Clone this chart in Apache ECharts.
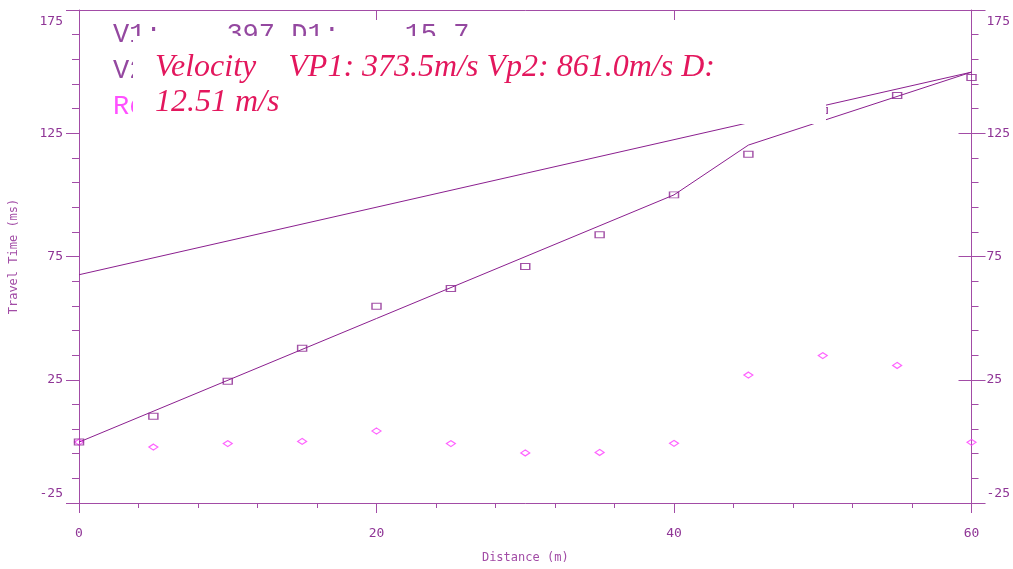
<!DOCTYPE html>
<html>
<head>
<meta charset="utf-8">
<script src="https://cdn.jsdelivr.net/npm/echarts@6/dist/echarts.min.js"></script>
<style>html,body{margin:0;padding:0;background:#fff;}#c{width:1013px;height:569px;}</style>
</head>
<body>
<div id="c"></div>
<script>
// ---- data ----
const distance = [0, 5, 10, 15, 20, 25, 30, 35, 40, 45, 50, 55, 60];
const firstArrival = [-0.3, 10.2, 24.4, 37.8, 54.8, 62.0, 70.9, 83.8, 100.0, 116.5, 134.2, 140.3, 147.6];
const residual = [-0.3, -2.3, -0.9, 0.0, 4.2, -0.9, -4.7, -4.5, -0.8, 26.9, 34.8, 30.8, -0.4];
const fitX = [0, 40, 45, 60];
const fitT = [-0.3, 100.0, 120.2, 149.8];
const refX = [0, 60];
const refT = [67.6, 149.8];
const xTicks = [0, 20, 40, 60];
const yTicks = [-25, 25, 75, 125, 175];
const titleLine1 = 'Velocity    VP1: 373.5m/s Vp2: 861.0m/s D:';
const titleLine2 = '12.51 m/s';
const infoLines = ['V1:    397 D1:    15.7', 'V2:    861 D2:    12.5', 'Residuals'];

const axisColor = '#a24ca6';
const labelColor = '#8f3596';
const lineColor = '#8b1f8f';
const monoFont = '"DejaVu Sans Mono", "Liberation Mono", monospace';

const pairs = (xs, ys) => xs.map((x, i) => [x, ys[i]]);

const chart = echarts.init(document.getElementById('c'), null, {renderer: 'canvas'});

const baseX = {
  type: 'value', min: xTicks[0], max: xTicks[xTicks.length - 1], interval: 20,
  splitLine: {show: false}
};
const baseY = {
  type: 'value', min: yTicks[0], max: yTicks[yTicks.length - 1], interval: 50,
  splitLine: {show: false}
};
const yMin = yTicks[0], yMax = yTicks[yTicks.length - 1];
const yLabelFormatter = (v) => v === yMax ? '{mx|' + v + '}' : (v === yMin ? '{mn|' + v + '}' : '{n|' + v + '}');
const labelFont = {color: labelColor, fontFamily: monoFont, fontSize: 13};
const yRich = {
  mx: Object.assign({padding: [5, 0, 0, 0]}, labelFont),
  mn: Object.assign({padding: [0, 0, 3, 0]}, labelFont),
  n: Object.assign({}, labelFont)
};

chart.setOption({
  animation: false,
  backgroundColor: '#ffffff',
  grid: {left: 79, right: 40, top: 10, bottom: 66, containLabel: false},
  xAxis: [
    Object.assign({}, baseX, {
      position: 'bottom',
      name: 'Distance (m)', nameLocation: 'middle', nameGap: 49,
      nameTextStyle: {color: axisColor, fontFamily: monoFont, fontSize: 12},
      axisLine: {show: true, onZero: false, lineStyle: {color: axisColor, width: 1}},
      axisTick: {show: true, inside: false, length: 10, lineStyle: {color: axisColor}},
      minorTick: {show: true, splitNumber: 5, length: 5, lineStyle: {color: axisColor}},
      axisLabel: {color: labelColor, fontFamily: monoFont, fontSize: 13, margin: 24}
    }),
    Object.assign({}, baseX, {
      position: 'top',
      axisLine: {show: true, onZero: false, lineStyle: {color: axisColor, width: 1}},
      axisTick: {show: true, inside: true, length: 10, lineStyle: {color: axisColor}},
      axisLabel: {show: false}
    })
  ],
  yAxis: [
    Object.assign({}, baseY, {
      position: 'left',
      name: 'Travel Time (ms)', nameLocation: 'middle', nameGap: 59, nameRotate: 90,
      nameTextStyle: {color: axisColor, fontFamily: monoFont, fontSize: 12},
      axisLine: {show: true, onZero: false, lineStyle: {color: axisColor, width: 1}},
      axisTick: {show: true, inside: false, length: 13, lineStyle: {color: axisColor}},
      minorTick: {show: true, splitNumber: 5, length: 7, lineStyle: {color: axisColor}},
      axisLabel: {color: labelColor, fontFamily: monoFont, fontSize: 13, margin: 16,
        verticalAlignMaxLabel: 'top', verticalAlignMinLabel: 'bottom',
        formatter: yLabelFormatter, rich: yRich}
    }),
    Object.assign({}, baseY, {
      position: 'right',
      axisLine: {show: true, onZero: false, lineStyle: {color: axisColor, width: 1}},
      axisTick: {show: true, inside: false, length: 14, lineStyle: {color: axisColor}},
      minorTick: {show: true, splitNumber: 5, length: 7, lineStyle: {color: axisColor}},
      axisLabel: {color: labelColor, fontFamily: monoFont, fontSize: 13, margin: 15,
        verticalAlignMaxLabel: 'top', verticalAlignMinLabel: 'bottom',
        formatter: yLabelFormatter, rich: yRich}
    }),
    Object.assign({}, baseY, {
      position: 'right',
      axisLine: {show: false, onZero: false},
      axisTick: {show: true, inside: true, length: 13, lineStyle: {color: axisColor}},
      axisLabel: {show: false}
    })
  ],
  series: [
    {
      type: 'line', xAxisIndex: 0, yAxisIndex: 0, data: pairs(refX, refT),
      showSymbol: false, symbol: 'none', z: 2,
      lineStyle: {color: lineColor, width: 1}
    },
    {
      type: 'line', xAxisIndex: 0, yAxisIndex: 0, data: pairs(fitX, fitT),
      showSymbol: false, symbol: 'none', z: 2,
      lineStyle: {color: lineColor, width: 1}
    },
    {
      type: 'scatter', xAxisIndex: 0, yAxisIndex: 0, data: pairs(distance, residual),
      symbol: 'diamond', symbolSize: [9, 6], z: 3,
      itemStyle: {color: 'rgba(255,255,255,0)', borderColor: '#ff3cff', borderWidth: 1.2}
    },
    {
      type: 'scatter', xAxisIndex: 0, yAxisIndex: 0, data: pairs(distance, firstArrival),
      symbol: 'rect', symbolSize: [9, 6], z: 4,
      itemStyle: {color: 'rgba(255,255,255,0)', borderColor: '#8b2590', borderWidth: 1.2}
    }
  ],
  graphic: [
    {type: 'text', z: 50, left: 113, top: 21,
      style: {text: infoLines[0], font: '27px "Liberation Mono", monospace', fill: '#9448a0'}},
    {type: 'text', z: 50, left: 113, top: 57,
      style: {text: infoLines[1], font: '27px "Liberation Mono", monospace', fill: '#9448a0'}},
    {type: 'text', z: 50, left: 113, top: 93,
      style: {text: infoLines[2], font: '27px "Liberation Mono", monospace', fill: '#ff50ff'}},
    {type: 'rect', z: 60, shape: {x: 133, y: 36, width: 693, height: 88},
      style: {fill: '#ffffff'}},
    {type: 'text', z: 70, x: 155, y: 50,
      style: {text: titleLine1 + '\n' + titleLine2,
        font: 'italic 32px "Liberation Serif", "Times New Roman", serif',
        fill: '#e3175d', lineHeight: 35, verticalAlign: 'top'}}
  ]
});
</script>
</body>
</html>
